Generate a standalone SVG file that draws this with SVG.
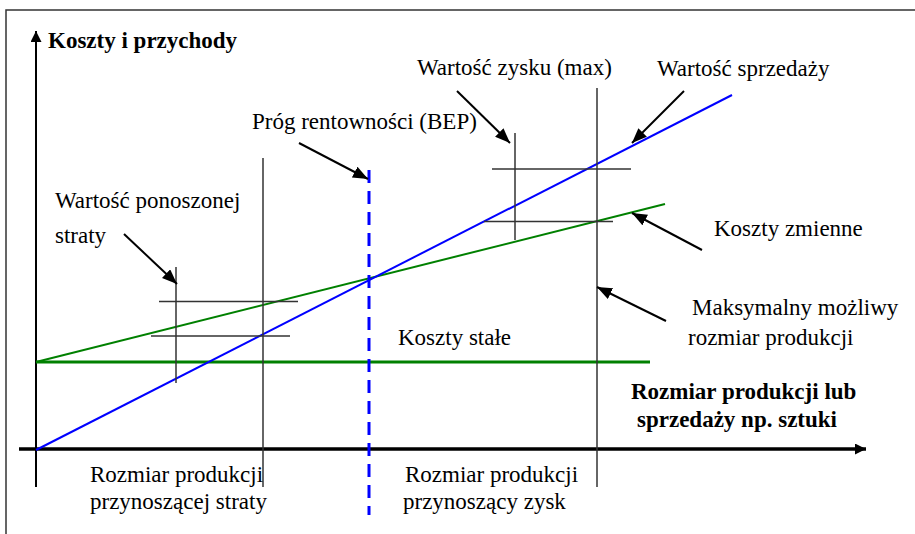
<svg xmlns="http://www.w3.org/2000/svg" width="915" height="534" viewBox="0 0 915 534">
  <defs>
    <marker id="callout-head" markerUnits="userSpaceOnUse" markerWidth="16" markerHeight="12" refX="15" refY="6" orient="auto">
      <path d="M0,0 L15,6 L0,12 z" fill="#000"/>
    </marker>
    <marker id="axis-head" markerUnits="userSpaceOnUse" markerWidth="12" markerHeight="12" refX="11" refY="5.5" orient="auto">
      <path d="M0,0 L11,5.5 L0,11 z" fill="#000"/>
    </marker>
    <style>
      text { font-family: "Liberation Serif", "Times New Roman", serif; font-size: 23px; fill: #000; }
      .bold { font-weight: bold; }
      .frame { stroke: #333; stroke-width: 1.5; fill: none; }
      .axis { stroke: #000; fill: none; }
      .guide { stroke: #333; stroke-width: 1.5; fill: none; }
      .sales { stroke: #0000ff; stroke-width: 2; fill: none; }
      .cost { stroke: #008000; stroke-width: 2; fill: none; }
      .fixed { stroke: #008000; stroke-width: 3; fill: none; }
      .bep { stroke: #0000ff; stroke-width: 3; stroke-dasharray: 13 8; fill: none; }
      .callout { stroke: #000; stroke-width: 2; fill: none; marker-end: url(#callout-head); }
    </style>
  </defs>

  <rect width="915" height="534" fill="#fff"/>

  <!-- page frame (top and left edges) -->
  <path class="frame" d="M6,534 V10 H915"/>

  <!-- axes -->
  <g id="axes">
    <line class="axis" x1="36" y1="487" x2="36" y2="31" stroke-width="2" marker-end="url(#axis-head)"/>
    <line class="axis" x1="19" y1="449" x2="866" y2="449" stroke-width="3.5" marker-end="url(#axis-head)"/>
  </g>

  <!-- chart lines -->
  <g id="chart-lines">
    <line class="fixed" x1="36" y1="362" x2="650" y2="362"/>
    <line class="cost" x1="36" y1="362" x2="665" y2="204"/>
    <line class="sales" x1="36" y1="450" x2="732" y2="95"/>
    <line class="bep" x1="369" y1="170" x2="369" y2="515"/>
  </g>

  <!-- guide lines -->
  <g id="guides">
    <line class="guide" x1="263" y1="158" x2="263" y2="487"/>
    <line class="guide" x1="597" y1="88" x2="597" y2="487"/>
    <line class="guide" x1="176" y1="267" x2="176" y2="383"/>
    <line class="guide" x1="159" y1="301.5" x2="298" y2="301.5"/>
    <line class="guide" x1="151" y1="336" x2="290" y2="336"/>
    <line class="guide" x1="515" y1="133" x2="515" y2="240"/>
    <line class="guide" x1="492" y1="169" x2="631" y2="169"/>
    <line class="guide" x1="484" y1="221.5" x2="613" y2="221.5"/>
  </g>

  <!-- callout connectors -->
  <g id="connectors">
    <line class="callout" x1="299" y1="143" x2="368" y2="179"/>
    <line class="callout" x1="457" y1="91" x2="510" y2="143"/>
    <line class="callout" x1="684" y1="91" x2="632" y2="143"/>
    <line class="callout" x1="702" y1="250" x2="632" y2="213"/>
    <line class="callout" x1="666" y1="321" x2="597" y2="287"/>
    <line class="callout" x1="124" y1="234" x2="177" y2="284"/>
  </g>

  <!-- labels -->
  <g id="label-y-axis"><text class="bold" x="48" y="48">Koszty i przychody</text></g>
  <g id="label-bep"><text x="252" y="129">Próg rentowności (BEP)</text></g>
  <g id="label-profit"><text x="417" y="75">Wartość zysku (max)</text></g>
  <g id="label-sales"><text x="657" y="76">Wartość sprzedaży</text></g>
  <g id="label-loss">
    <text x="55" y="208">Wartość ponoszonej</text>
    <text x="55" y="243">straty</text>
  </g>
  <g id="label-variable"><text x="714" y="236">Koszty zmienne</text></g>
  <g id="label-fixed"><text x="398" y="345">Koszty stałe</text></g>
  <g id="label-max-size">
    <text x="692" y="315">Maksymalny możliwy</text>
    <text x="688" y="345">rozmiar produkcji</text>
  </g>
  <g id="label-x-axis">
    <text class="bold" x="631" y="399">Rozmiar produkcji lub</text>
    <text class="bold" x="637" y="427">sprzedaży np. sztuki</text>
  </g>
  <g id="label-loss-range">
    <text x="90" y="482">Rozmiar produkcji</text>
    <text x="90" y="509">przynoszącej straty</text>
  </g>
  <g id="label-profit-range">
    <text x="405" y="482">Rozmiar produkcji</text>
    <text x="403" y="509">przynoszący zysk</text>
  </g>
</svg>
